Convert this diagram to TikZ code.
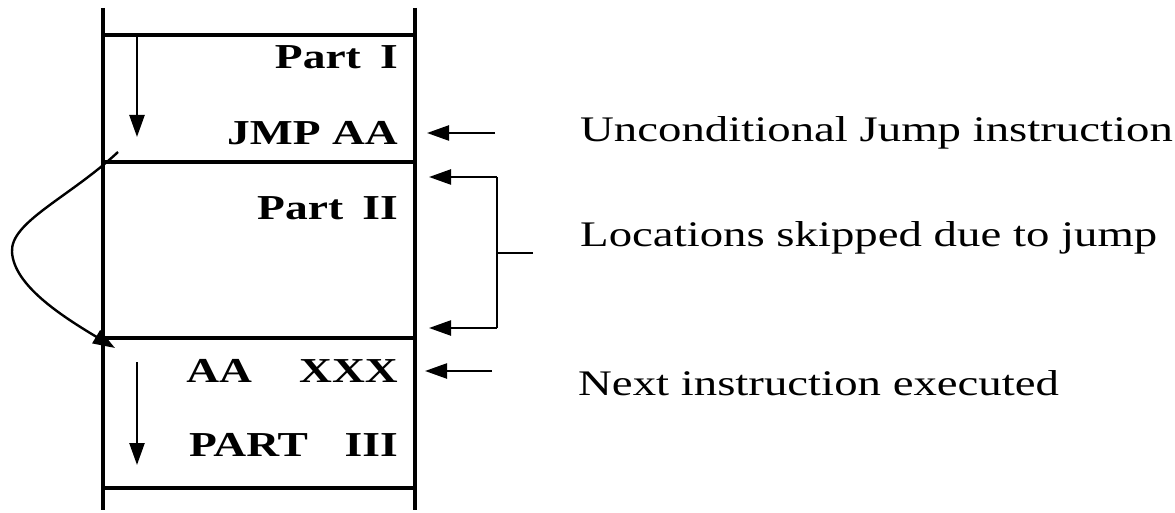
\documentclass[tikz,border=0pt]{standalone}
\usepackage{fontspec}
\setmainfont[FakeStretch=1.3]{Liberation Serif}
\usetikzlibrary{arrows.meta}
\newcommand{\cellfont}{\fontsize{35}{40}\selectfont\bfseries}
\newcommand{\notefont}{\fontsize{36}{40}\selectfont}

\begin{document}
\begin{tikzpicture}[x=1pt,y=-1pt,
    cell node/.style={anchor=east,inner sep=0pt,font=\cellfont},
    note node/.style={anchor=west,inner sep=0pt,font=\notefont},
    wall/.style={line width=3.5pt},
    flow/.style={line width=2.4pt,-{Triangle[length=22pt,width=15pt]}}]
    \useasboundingbox (0,0) rectangle (1175,513);

    % memory column
    \draw[wall] (103,8) -- (103,510);
    \draw[wall] (415,8) -- (415,510);
    \draw[wall] (103,35) -- (415,35);
    \draw[wall] (103,162) -- (415,162);
    \draw[wall] (103,338) -- (415,338);
    \draw[wall] (103,488) -- (415,488);

    \node[cell node] (p1) at (398,57) {Part\hspace{0.55em}I};
    \node[cell node] (jmp) at (398,133) {JMP AA};
    \node[cell node] (p2) at (398,208) {Part\hspace{0.55em}II};
    \node[cell node] (aa) at (398,371) {AA\hspace{1.35em}XXX};
    \node[cell node] (p3) at (398,445) {PART\hspace{1.05em}III};

    \node[note node] (uj) at (580,133) {Unconditional Jump instruction};
    \node[note node] (ls) at (580,238) {Locations skipped due to jump};
    \node[note node] (ni) at (578,383) {Next instruction executed};

    \coordinate (d1a) at (137,35);
    \coordinate (d1b) at (137,137);
    \coordinate (d2a) at (137,362);
    \coordinate (d2b) at (137,465);
    \coordinate (ja) at (118,152);
    \coordinate (jv) at (12,252);
    \coordinate (jb) at (115,348);

    \coordinate (u1) at (495,133);
    \coordinate (u2) at (427,133);
    \coordinate (s1) at (497,177);
    \coordinate (s2) at (429,177);
    \coordinate (s3) at (497,328);
    \coordinate (s4) at (429,328);
    \coordinate (s5) at (533,253);
    \coordinate (s6) at (497,253);
    \coordinate (n1) at (492,371);
    \coordinate (n2) at (425,371);

    % sequential flow and jump
    \draw[flow] (d1a) -- (d1b);
    \draw[flow] (d2a) -- (d2b);
    \draw[flow] (ja) .. controls (70,197) and (10,222) .. (jv)
        .. controls (14,285) and (60,315) .. (jb);

    % pointers from the notes
    \draw[flow] (u1) -- (u2);
    \draw[flow] (s1) -- (s2);
    \draw[flow] (s3) -- (s4);
    \draw[line width=2.4pt] (s1) -- (s3);
    \draw[line width=2.4pt] (s5) -- (s6);
    \draw[flow] (n1) -- (n2);
\end{tikzpicture}
\end{document}
